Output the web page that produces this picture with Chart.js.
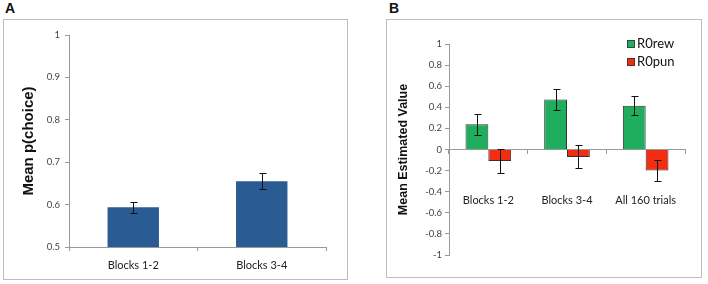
<!DOCTYPE html>
<html>
<head>
<meta charset="utf-8">
<script src="https://cdn.jsdelivr.net/npm/chart.js@4"></script>
<style>
  body { margin: 0; background: #fff; width: 708px; height: 284px; position: relative; overflow: hidden; }
  .panel { position: absolute; border: 1px solid #bdbdbd; box-sizing: border-box; }
  .tag { position: absolute; font: bold 14px "Liberation Sans", Arial, sans-serif; color: #111; }
  canvas { position: absolute; left: 0; top: 0; }
</style>
</head>
<body>
<div class="tag" style="left:5px; top:0px;">A</div>
<div class="tag" style="left:389px; top:0px;">B</div>
<div class="panel" style="left:3px; top:19px; width:345px; height:261px;">
  <canvas id="chart_a" width="343" height="259"></canvas>
</div>
<div class="panel" style="left:386px; top:19px; width:316px; height:259px;">
  <canvas id="chart_b" width="314" height="257"></canvas>
</div>
<script>
// panel A data
const a_labels = ['Blocks 1-2', 'Blocks 3-4'];
const a_values = [0.594, 0.655];
const a_errors = [0.013, 0.019];

// panel B data
const b_labels = ['Blocks 1-2', 'Blocks 3-4', 'All 160 trials'];
const b_rew = [0.24, 0.475, 0.415];
const b_rew_err = [0.10, 0.10, 0.09];
const b_pun = [-0.11, -0.07, -0.20];
const b_pun_err = [0.115, 0.11, 0.10];

const tick_font = { family: 'Lato, "Open Sans", sans-serif', size: 9.5 };
const label_font = { family: 'Lato, "Open Sans", sans-serif', size: 11 };
const axis_color = '#9a9a9a';

// draws error bars using the scales of the chart
const error_bars = {
    id: 'error_bars',
    afterDatasetsDraw(chart) {
        const ctx = chart.ctx;
        const y = chart.scales.y;
        ctx.save();
        ctx.strokeStyle = '#111';
        ctx.lineWidth = 1;
        chart.data.datasets.forEach(function (ds, i) {
            const meta = chart.getDatasetMeta(i);
            meta.data.forEach(function (bar, j) {
                const v = ds.data[j];
                const e = ds.errors[j];
                const x = Math.round(bar.x) + 0.5;
                const top = Math.round(y.getPixelForValue(v + e)) + 0.5;
                const bottom = Math.round(y.getPixelForValue(v - e)) + 0.5;
                ctx.beginPath();
                ctx.moveTo(x, top); ctx.lineTo(x, bottom);
                ctx.moveTo(x - 3, top); ctx.lineTo(x + 4, top);
                ctx.moveTo(x - 3, bottom); ctx.lineTo(x + 4, bottom);
                ctx.stroke();
            });
        });
        ctx.restore();
    }
};

// legend in the top right corner of the plot, like the original
const corner_legend = {
    id: 'corner_legend',
    afterDraw(chart) {
        const ctx = chart.ctx;
        const area = chart.chartArea;
        const x = area.right - 58;
        ctx.save();
        ctx.font = '13px Lato, "Open Sans", sans-serif';
        ctx.textBaseline = 'middle';
        chart.data.datasets.forEach(function (ds, i) {
            const cy = area.top + i * 18;
            ctx.fillStyle = ds.backgroundColor;
            ctx.fillRect(x, cy - 4, 8, 8);
            ctx.strokeStyle = '#333';
            ctx.lineWidth = 0.8;
            ctx.strokeRect(x + 0.5, cy - 3.5, 7, 7);
            ctx.fillStyle = '#111';
            ctx.fillText(ds.label, x + 10, cy);
        });
        ctx.restore();
    }
};

function fixed_width(w) {
    return function (scale) { scale.width = w; };
}
function fixed_height(h) {
    return function (scale) { scale.height = h; };
}
function no_side_padding(scale) {
    scale.paddingLeft = 0;
    scale.paddingRight = 0;
}

new Chart(document.getElementById('chart_a'), {
    type: 'bar',
    data: {
        labels: a_labels,
        datasets: [{
            data: a_values,
            errors: a_errors,
            backgroundColor: '#2a5b93',
            borderWidth: 0,
            categoryPercentage: 0.4,
            barPercentage: 1.0,
        }]
    },
    options: {
        responsive: false,
        animation: false,
        layout: { padding: { top: 15, right: 21, bottom: 0, left: 0 } },
        plugins: { legend: { display: false }, tooltip: { enabled: false } },
        scales: {
            x: {
                afterFit: fixed_height(32),
                grid: { display: true, drawOnChartArea: false, color: axis_color, tickLength: 4, offset: true },
                border: { color: axis_color },
                ticks: { color: '#222', font: label_font, padding: 8 },
            },
            y: {
                min: 0.5,
                max: 1,
                afterFit: fixed_width(65),
                grid: { drawOnChartArea: false, color: axis_color, tickLength: 4 },
                border: { color: axis_color },
                ticks: {
                    stepSize: 0.1,
                    color: '#444',
                    font: tick_font,
                    padding: 5,
                    callback: function (v) { return Math.round(v * 10) / 10; },
                },
                title: {
                    display: true,
                    text: 'Mean p(choice)',
                    color: '#111',
                    font: { family: '"Liberation Sans", Arial, sans-serif', size: 15, weight: 'bold' },
                    padding: { top: 16, bottom: 0 },
                },
            },
        },
    },
    plugins: [error_bars],
});

new Chart(document.getElementById('chart_b'), {
    type: 'bar',
    data: {
        labels: b_labels,
        datasets: [{
            label: 'R0rew',
            data: b_rew,
            errors: b_rew_err,
            backgroundColor: '#1fae5e',
            borderColor: '#333',
            borderWidth: 1,
            categoryPercentage: 0.58,
            barPercentage: 1.0,
        }, {
            label: 'R0pun',
            data: b_pun,
            errors: b_pun_err,
            backgroundColor: '#f22d12',
            borderColor: '#333',
            borderWidth: 1,
            categoryPercentage: 0.58,
            barPercentage: 1.0,
        }]
    },
    options: {
        responsive: false,
        animation: false,
        layout: { padding: { top: 24, right: 16, bottom: 22, left: 0 } },
        plugins: { legend: { display: false }, tooltip: { enabled: false } },
        scales: {
            x: {
                position: { y: 0 },
                afterFit: no_side_padding,
                grid: { display: true, drawOnChartArea: false, color: axis_color, tickLength: 4, offset: true },
                border: { color: axis_color },
                ticks: { color: '#222', font: label_font, padding: 40 },
            },
            y: {
                min: -1,
                max: 1,
                afterFit: fixed_width(62),
                grid: { drawOnChartArea: false, color: axis_color, tickLength: 4 },
                border: { color: axis_color },
                ticks: {
                    stepSize: 0.2,
                    color: '#444',
                    font: tick_font,
                    padding: 3,
                    callback: function (v) { return Math.round(v * 10) / 10; },
                },
                title: {
                    display: true,
                    text: 'Mean Estimated Value',
                    color: '#111',
                    font: { family: '"Liberation Sans", Arial, sans-serif', size: 12.5, weight: 'bold' },
                    padding: { top: 9, bottom: 0 },
                },
            },
        },
    },
    plugins: [error_bars, corner_legend],
});
</script>
</body>
</html>
